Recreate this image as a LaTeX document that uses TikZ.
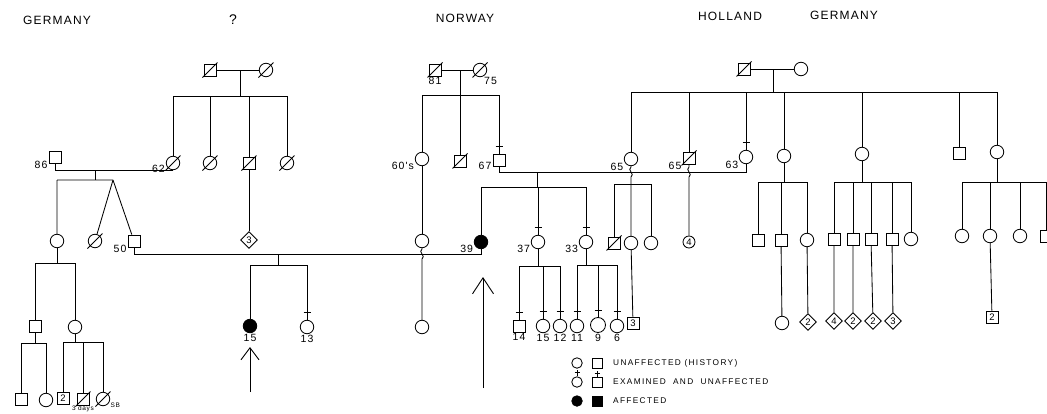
\documentclass[tikz,border=0pt]{standalone}
\usepackage{fontspec}
\setmainfont{Liberation Sans}
\newfontfamily\stencil[LetterSpace=10]{Liberation Sans}
\newfontfamily\wideletters[LetterSpace=16]{Liberation Sans}
\usetikzlibrary{shapes.geometric, arrows.meta, positioning}

\newcommand{\labfont}{\stencil\fontsize{10.5}{11}\selectfont}
\newcommand{\numfont}{\stencil\fontsize{9.5}{10}\selectfont}
\newcommand{\tinyfont}{\stencil\fontsize{6.5}{7}\selectfont}
\newcommand{\countryfont}{\stencil\fontsize{12}{12}\selectfont}
\newcommand{\keyfont}{\wideletters\fontsize{8.3}{9}\selectfont}

% slash through a deceased person
\newcommand{\deceased}[1]{\draw[kin] ([shift={(-7.5,7.5)}]#1.center) -- ([shift={(7.5,-7.5)}]#1.center);}
% tick above an examined person
\newcommand{\examined}[1]{\draw[kin] ([shift={(-3.5,-7)}]#1.north) -- ++(7,0);}
\newcommand{\examkey}[1]{\draw[kin] (#1.north) -- ++(0,-6) ([shift={(-2.5,-3.5)}]#1.north) -- ++(5,0);}
% vertical line hopping over a marriage line
\newcommand{\hopline}[3]{\draw[kin] (#1) -- ([shift={(0,-5)}]#1 |- #3) .. controls ([shift={(-4.5,-2)}]#1 |- #3) and ([shift={(4.5,2)}]#1 |- #3) .. ([shift={(0,5)}]#1 |- #3) -- (#2);}

\begin{document}
\begin{tikzpicture}[x=1pt, y=-1pt,
    kin/.style={line width=0.85pt, draw=black},
    fem/.style={circle, draw, line width=0.85pt, minimum size=13.5pt, inner sep=0pt, font=\numfont},
    mal/.style={rectangle, draw, line width=0.85pt, minimum size=12pt, inner sep=0pt, font=\numfont},
    dia/.style={diamond, draw, line width=0.85pt, minimum size=17pt, inner sep=0pt, font=\numfont},
    aff/.style={fill=black},
    lab/.style={font=\labfont, inner sep=1pt},
    country/.style={font=\countryfont},
    keytext/.style={font=\keyfont, anchor=west, inner sep=0pt},
    pointer/.style={line width=0.9pt}
]
    \fill[white] (0,0) rectangle (1047,413);
    \useasboundingbox (0,0) rectangle (1047,413);

    \node[country] (tG1) at (57,20) {GERMANY};
    \node[font=\fontsize{14}{14}\selectfont] (tQ) at (233,20) {?};
    \node[country] (tN) at (465,18) {NORWAY};
    \node[country] (tH) at (730,16) {HOLLAND};
    \node[country] (tG2) at (844,15) {GERMANY};

    % unknown origin
    \node[mal] (gA) at (210,70) {}; \deceased{gA}
    \node[fem] (gB) at (266,70) {}; \deceased{gB}
    \draw[kin] (gA) -- (gB);
    \coordinate (jG) at (240,70); \coordinate (bG) at (0,96);
    \node[fem, label={[lab]190:62}] (g62) at (173,163) {};
    \node[fem] (gC) at (210,163) {};
    \node[mal] (gD) at (249,163) {};
    \node[fem] (gE) at (287,163) {};
    \draw[kin] (jG) -- (jG |- bG) (g62 |- bG) -- (gE |- bG);
    \foreach \n in {g62,gC,gD,gE} {\deceased{\n} \draw[kin] (\n |- bG) -- (\n);}
    \node[dia] (gF) at (249,240) {3};
    \draw[kin] (gD) -- (gF);

    % germany, left
    \node[mal, label={[lab]205:86}] (s86) at (55,157) {};
    \draw[kin] (s86.south) |- (g62.south);
    \coordinate (jL) at (95,170); \coordinate (bL) at (0,180);
    \coordinate (twL) at (113,180);
    \draw[kin] (jL) -- (jL |- bL);
    \node[fem] (dA) at (57,241) {};
    \node[fem] (dB) at (95,241) {}; \deceased{dB}
    \node[mal, label={[lab]205:50}] (s50) at (134,241) {};
    \draw[kin] (dA |- bL) -- (twL) (dA |- bL) -- (dA) (twL) -- (dB) (twL) -- (s50);

    \coordinate (bL2) at (0,263);
    \node[mal] (eA) at (35,326) {};
    \node[fem] (eB) at (75,327) {};
    \draw[kin] (dA) -- (dA |- bL2) (eA |- bL2) -- (eB |- bL2) (eA |- bL2) -- (eA) (eB |- bL2) -- (eB);

    \coordinate (bL3) at (0,343);
    \node[mal] (fA) at (21,399) {};
    \node[fem] (fB) at (46,400) {};
    \draw[kin] (eA) -- (eA |- bL3) (fA |- bL3) -- (fB |- bL3) (fA |- bL3) -- (fA) (fB |- bL3) -- (fB);

    \coordinate (bL4) at (0,342);
    \node[mal] (fC) at (63,398) {2};
    \node[mal, label={[lab, font=\tinyfont, inner sep=0.5pt]below:3 days}] (fD) at (83,399) {}; \deceased{fD}
    \node[fem, label={[lab, font=\tinyfont]-25:SB}] (fE) at (103,399) {}; \deceased{fE}
    \draw[kin] (eB) -- (eB |- bL4) (fC |- bL4) -- (fE |- bL4);
    \foreach \n in {fC,fD,fE} \draw[kin] (\n |- bL4) -- (\n);

    % norway
    \node[mal, label={[lab]below:81}] (n81) at (435,70) {}; \deceased{n81}
    \node[fem, label={[lab]-65:75}] (n75) at (480,70) {}; \deceased{n75}
    \draw[kin] (n81) -- (n75);
    \coordinate (jN) at (460,70); \coordinate (bN) at (0,95);
    \node[fem, label={[lab]195:60's}] (n60) at (422,159) {};
    \node[mal] (nB) at (460,161) {}; \deceased{nB}
    \node[mal, label={[lab]190:67}] (s67) at (499,160) {}; \examined{s67}
    \draw[kin] (jN) -- (nB) (n60 |- bN) -- (s67 |- bN) (n60 |- bN) -- (n60) (s67 |- bN) -- (s67);
    \node[fem] (nC) at (422,241) {};
    \node[fem] (nD) at (422,327) {};
    \draw[kin] (n60) -- (nC);

    % holland
    \node[mal] (hA) at (744,69) {}; \deceased{hA}
    \node[fem] (hB) at (801,69) {};
    \draw[kin] (hA) -- (hB);
    \coordinate (jH) at (773,69); \coordinate (bH) at (0,92);
    \node[fem, label={[lab]205:65}] (c65) at (631,159) {};
    \node[mal, label={[lab]205:65}] (s65) at (689,158) {}; \deceased{s65}
    \node[fem, label={[lab]205:63}] (c63) at (746,157) {}; \examined{c63}
    \node[fem] (hC) at (784,156) {};
    \node[fem] (hD) at (862,154) {};
    \node[mal] (hE) at (959,153) {};
    \node[fem] (hF) at (997,152) {};
    \draw[kin] (jH) -- (jH |- bH) (c65 |- bH) -- (hF |- bH);
    \foreach \n in {c65,s65,c63,hC,hD,hE,hF} \draw[kin] (\n |- bH) -- (\n);

    % 67 x 63
    \coordinate (bK) at (0,172);
    \draw[kin] (s67.south) -- (s67 |- bK) -| (c63.south);
    \coordinate (jK) at (537,172); \coordinate (bK2) at (0,187);
    \node[fem, aff, label={[lab]200:39}] (c39) at (481,242) {};
    \node[fem, label={[lab]200:37}] (c37) at (538,242) {}; \examined{c37}
    \node[fem, label={[lab]200:33}] (c33) at (586,242) {}; \examined{c33}
    \draw[kin] (jK) -- (jK |- bK2) (c39 |- bK2) -- (c33 |- bK2);
    \foreach \n in {c39,c37,c33} \draw[kin] (\n |- bK2) -- (\n);

    % 50 x 39
    \coordinate (bM) at (0,254);
    \draw[kin] (s50.south) -- (s50 |- bM) -| (c39.south);
    \hopline{nC}{nD}{bM}
    \coordinate (jM) at (278,254); \coordinate (bM2) at (0,265);
    \node[fem, aff, label={[lab]below:15}] (a15) at (250,326) {};
    \node[fem, label={[lab]below:13}] (c13) at (307,327) {}; \examined{c13}
    \draw[kin] (jM) -- (jM |- bM2) (a15 |- bM2) -- (c13 |- bM2) (a15 |- bM2) -- (a15) (c13 |- bM2) -- (c13);

    \coordinate (bP) at (0,266);
    \node[mal, label={[lab]below:14}] (s14) at (519,326) {};
    \node[fem, label={[lab]below:15}] (c15) at (543,326) {};
    \node[fem, label={[lab]below:12}] (c12) at (560,326) {};
    \draw[kin] (c37) -- (c37 |- bP) (s14 |- bP) -- (c12 |- bP);
    \foreach \n in {s14,c15,c12} {\draw[kin] (\n |- bP) -- (\n); \examined{\n}}

    \coordinate (bQ) at (0,265);
    \node[fem, label={[lab]below:11}] (c11) at (577,326) {};
    \node[fem, minimum size=15pt, label={[lab]below:9}] (c9) at (598,325) {};
    \node[fem, label={[lab]below:6}] (c6) at (617,326) {};
    \draw[kin] (c33) -- (c33 |- bQ) (c11 |- bQ) -- (c6 |- bQ);
    \foreach \n in {c11,c9,c6} {\draw[kin] (\n |- bQ) -- (\n); \examined{\n}}

    % 65 and 65
    \coordinate (bR) at (0,184);
    \node[mal] (k1) at (614,243) {}; \deceased{k1}
    \node[fem] (k2) at (631,243) {};
    \node[fem] (k3) at (651,243) {};
    \hopline{c65}{k2}{bK}
    \draw[kin] (k1 |- bR) -- (k3 |- bR) (k1 |- bR) -- (k1) (k3 |- bR) -- (k3);
    \node[mal] (k4) at (633,323) {3};
    \draw[kin] (k2) -- (k4);
    \node[fem, minimum size=12pt] (k5) at (689,242) {4};
    \hopline{s65}{k5}{bK}

    \coordinate (bS) at (0,182);
    \node[mal] (p1) at (758,240) {};
    \node[mal] (p2) at (781,240) {};
    \node[fem] (p3) at (807,240) {};
    \draw[kin] (hC) -- (hC |- bS) (p1 |- bS) -- (p3 |- bS);
    \foreach \n in {p1,p2,p3} \draw[kin] (\n |- bS) -- (\n);
    \node[fem] (p4) at (782,323) {};
    \node[dia] (p5) at (808,322) {2};
    \draw[kin] (p2) -- (p4) (p3) -- (p5);

    \coordinate (bT) at (0,182);
    \node[mal] (q1) at (834,239) {};
    \node[mal] (q2) at (853,239) {};
    \node[mal] (q3) at (871,239) {};
    \node[mal] (q4) at (892,239) {};
    \node[fem] (q5) at (911,239) {};
    \draw[kin] (hD) -- (hD |- bT) (q1 |- bT) -- (q5 |- bT);
    \foreach \n in {q1,q2,q3,q4,q5} \draw[kin] (\n |- bT) -- (\n);
    \node[dia] (q6) at (834,321) {4};
    \node[dia] (q7) at (853,321) {2};
    \node[dia] (q8) at (873,321) {2};
    \node[dia] (q9) at (893,321) {3};
    \draw[kin] (q1) -- (q6) (q2) -- (q7) (q3) -- (q8) (q4) -- (q9);

    \coordinate (bU) at (0,182);
    \node[fem] (r1) at (962,236) {};
    \node[fem] (r2) at (990,236) {};
    \node[fem] (r3) at (1020,236) {};
    \node[mal] (r4) at (1046,236) {};
    \draw[kin] (hF) -- (hF |- bU) (r1 |- bU) -- (r4 |- bU);
    \foreach \n in {r1,r2,r3,r4} \draw[kin] (\n |- bU) -- (\n);
    \node[mal] (r5) at (992,317) {2};
    \draw[kin] (r2) -- (r5);

    % probands
    \coordinate (arA0) at (250,392); \coordinate (arA1) at (250,347);
    \draw[pointer, -{Straight Barb[length=12pt, width=18pt]}] (arA0) -- (arA1);
    \coordinate (arB0) at (483,388); \coordinate (arB1) at (483,277);
    \draw[pointer, -{Straight Barb[length=16pt, width=21pt]}] (arB0) -- (arB1);

    % key
    \node[fem, minimum size=10.5pt] (kF1) at (577,363) {};
    \node[mal, minimum size=10pt] (kM1) at (597,363) {};
    \node[keytext] (kT1) at (613,363) {UNAFFECTED (HISTORY)};
    \node[fem, minimum size=10.5pt] (kF2) at (577,382) {}; \examkey{kF2}
    \node[mal, minimum size=10pt] (kM2) at (597,382) {}; \examkey{kM2}
    \node[keytext] (kT2) at (613,382) {EXAMINED\ \ AND\ \ UNAFFECTED};
    \node[fem, aff, minimum size=10.5pt] (kF3) at (577,401) {};
    \node[mal, aff, minimum size=10pt] (kM3) at (597,401) {};
    \node[keytext] (kT3) at (613,401) {AFFECTED};
\end{tikzpicture}
\end{document}
